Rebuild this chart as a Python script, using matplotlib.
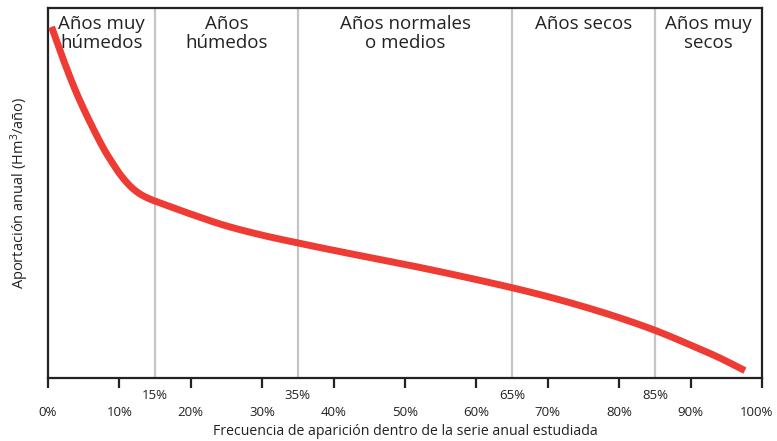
import matplotlib
matplotlib.use("Agg")
import matplotlib.pyplot as plt
from matplotlib.ticker import FixedLocator, FixedFormatter
from matplotlib.transforms import ScaledTranslation
import numpy as np

plt.rcParams['font.family'] = ['Open Sans', 'DejaVu Sans']
plt.rcParams['mathtext.default'] = 'regular'

# Curve (frequency %, relative annual contribution)
freq = [0.5, 2, 4, 6, 8, 9, 10, 11, 12, 13, 14, 16, 20, 25, 30, 35, 40, 45,
        50, 55, 60, 65, 70, 75, 80, 85, 90, 94, 97.6]
aport = [94.9, 86.8, 77.0, 68.7, 61.3, 58.2, 55.3, 52.9, 51.0, 49.6, 48.6,
         47.1, 44.3, 41.1, 38.6, 36.5, 34.5, 32.6, 30.7, 28.7, 26.6, 24.4,
         22.0, 19.3, 16.3, 12.9, 8.9, 5.5, 2.0]

boundaries = [15, 35, 65, 85]
region_edges = [0, 15, 35, 65, 85, 100]
region_labels = ["Años muy\nhúmedos", "Años\nhúmedos", "Años normales\no medios",
                 "Años secos", "Años muy\nsecos"]
major_ticks = [0, 10, 20, 30, 40, 50, 60, 70, 80, 90, 100]
major_labels = [f"{t}%" for t in major_ticks]
minor_labels = [f"{t}%" for t in boundaries]

fig = plt.figure(figsize=(7.77, 4.41), dpi=100)
ax = fig.add_axes([48/777, 63/441, 714/777, 370/441])

for b in boundaries:
    ax.axvline(b, color='#c4c4ca', lw=1.6, zorder=1)

# smooth monotone cubic (PCHIP) through the read points
x = np.array(freq); y = np.array(aport)
h = np.diff(x); d = np.diff(y) / h
m = np.zeros_like(x)
m[0] = d[0]; m[-1] = d[-1]
for i in range(1, len(x) - 1):
    if d[i-1] * d[i] <= 0:
        m[i] = 0
    else:
        w1 = 2*h[i] + h[i-1]; w2 = h[i] + 2*h[i-1]
        m[i] = (w1 + w2) / (w1/d[i-1] + w2/d[i])
xs, ys = [], []
for i in range(len(x) - 1):
    t = np.linspace(0, 1, 30, endpoint=False)
    h00 = 2*t**3 - 3*t**2 + 1; h10 = t**3 - 2*t**2 + t
    h01 = -2*t**3 + 3*t**2; h11 = t**3 - t**2
    xs.extend(x[i] + t*h[i])
    ys.extend(h00*y[i] + h10*h[i]*m[i] + h01*y[i+1] + h11*h[i]*m[i+1])
xs.append(x[-1]); ys.append(y[-1])
ax.plot(xs, ys, color='#ee3b33', lw=5, solid_capstyle='butt', zorder=3)

for i, lab in enumerate(region_labels):
    cx = (region_edges[i] + region_edges[i+1]) / 2
    ax.text(cx, 98.2, lab, ha='center', va='top', fontsize=13.5,
            color='#222222', linespacing=1.1, zorder=4)

ax.set_xlim(0, 100)
ax.set_ylim(0, 100)
ax.set_yticks([])

ax.xaxis.set_major_locator(FixedLocator(major_ticks))
ax.xaxis.set_major_formatter(FixedFormatter(major_labels))
ax.xaxis.set_minor_locator(FixedLocator(boundaries))
ax.xaxis.set_minor_formatter(FixedFormatter(minor_labels))
ax.tick_params(axis='x', which='major', direction='out', length=7, width=1.6,
               color='#222222', labelsize=9.5, pad=13, labelcolor='#222222')
ax.tick_params(axis='x', which='minor', length=0, labelsize=9.5, pad=8,
               labelcolor='#222222')

last = ax.get_xticklabels()[-1]
last.set_transform(last.get_transform() + ScaledTranslation(-4/72, 0, fig.dpi_scale_trans))

for s in ax.spines.values():
    s.set_linewidth(1.6)
    s.set_color('#222222')

ax.set_xlabel("Frecuencia de aparición dentro de la serie anual estudiada",
              fontsize=10.2, color='#222222', labelpad=4)
ax.set_ylabel("Aportación anual (Hm$^3$/año)", fontsize=10.5, color='#222222',
              labelpad=12)

fig.savefig("out.png", dpi=100)
